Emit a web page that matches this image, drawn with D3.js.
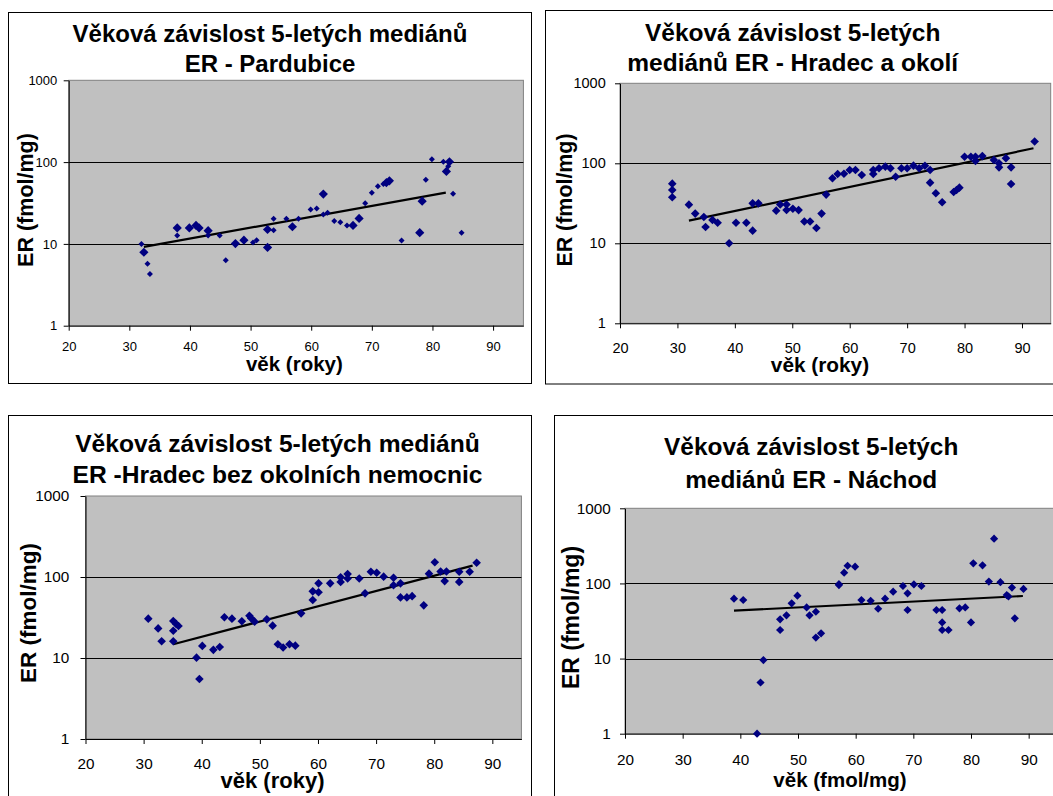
<!DOCTYPE html>
<html>
<head>
<meta charset="utf-8">
<script src="https://cdn.jsdelivr.net/npm/d3@7"></script>
<style>
  body { margin: 0; background: #fff; }
  svg { display: block; font-family: "Liberation Sans", Arial, sans-serif; }
</style>
</head>
<body>
<svg id="chart" width="1053" height="796"></svg>
<script>
// ---- data: [age, ER] ----
var pardubiceSmall = [
  [32, 10], [33, 5.7], [33.4, 4.3], [37.9, 12.7], [43, 12.7], [44.9, 12.7], [45.9, 6.3],
  [50.4, 10.4], [51, 11.1], [53.8, 20.3], [53.8, 14.7], [55.9, 20.3], [57.9, 20.3],
  [59.9, 26.4], [60.9, 27], [62.7, 24], [62, 22.9], [63.8, 19], [64.8, 18.4], [65.9, 16.8],
  [68.9, 31.5], [70, 42.1], [71, 50.8], [71.9, 54], [74.9, 11], [78.9, 60.7], [79.9, 108],
  [81.8, 100.7], [82.6, 89], [83.4, 41], [84.8, 13.7]
];
var pardubiceLarge = [
  [32.4, 7.9], [37.9, 15.7], [39.9, 15.7], [41, 16.8], [41.5, 15.7], [43, 14.5], [47.5, 10.1],
  [48.9, 11.1], [52.8, 9.05], [52.8, 15], [56.9, 16.2], [62, 40.6], [66.9, 16.8], [67.9, 20.5],
  [72.4, 56], [72.9, 59], [77.9, 13.7], [78.3, 33.3], [82.3, 77], [82.8, 101]
];
var pardubiceTrend = [[32.4, 9.2], [82.2, 42.3]];

var hradecOkoli = [
  [29.1, 55.7], [29.1, 46.4], [29.1, 37.6], [32, 30.4], [33.1, 23.5], [34.6, 21.3], [34.9, 16],
  [36.1, 19.6], [37, 18.1], [39, 10], [40.2, 18.1], [42, 18.1], [43.1, 14.4], [43.1, 31.6],
  [44.1, 31.6], [47.2, 25.6], [47.9, 30.5], [49, 26.1], [49, 30.5], [50.1, 27], [51.1, 26],
  [52.1, 18.7], [53.1, 18.7], [54.2, 15.5], [55.1, 23.5], [55.9, 40.6], [57, 65], [57.9, 73.6],
  [59, 74], [60, 82.5], [61, 82.5], [62.1, 71.5], [64.1, 73.6], [64.1, 82.5], [65.1, 86.6],
  [66.2, 90.9], [67.1, 86.6], [68, 68], [69, 86.6], [70, 86.6], [71.1, 93.5], [72.1, 86.6],
  [73.1, 93], [74, 82.5], [74, 57.3], [75, 42.2], [76.1, 32.6], [78.1, 43.8], [78.6, 46.4],
  [79.1, 49.6], [80, 121], [81.1, 121], [81.9, 107], [81.9, 121], [83.1, 123], [85.1, 110],
  [86, 100], [86, 89], [87.2, 116], [88.1, 89], [88.1, 55], [92.2, 187]
];
var hradecOkoliTrend = [[32, 19.2], [92, 154]];

var hradecBez = [
  [30.8, 30.6], [32.5, 23.2], [33.1, 16.1], [35.1, 28.6], [35.1, 21.7], [35.1, 16.1], [35.6, 26.3],
  [36, 24.8], [39.1, 10.1], [39.6, 5.5], [40.1, 14.1], [42, 12.6], [43.1, 13.7], [43.9, 31.8],
  [45.2, 30.6], [46.9, 28.4], [48.2, 33.3], [48.5, 31], [49.1, 28.1], [51.2, 30], [52.2, 25.1],
  [53.1, 14.8], [54, 13.5], [55.1, 14.8], [56.1, 14.2], [57.1, 35.6], [59.1, 66.5], [59.1, 52],
  [60.1, 83.5], [60.1, 64.7], [62.1, 83.5], [63.9, 86.7], [63.9, 99], [65.1, 109], [65.1, 96],
  [67.1, 96], [68.1, 62.8], [69.1, 116], [70.1, 113], [71.3, 101], [73, 98], [73, 79],
  [74.2, 83.5], [74.2, 56], [75.3, 56], [76.2, 58], [78.2, 44.7], [79.1, 110], [80.1, 152],
  [81.1, 117], [81.8, 89], [82.1, 117], [84.3, 116], [84.3, 87], [86.1, 116], [87.3, 150]
];
var hradecBezTrend = [[35.1, 14.8], [86.6, 138]];

var nachod = [
  [38.9, 62.7], [40.5, 60.2], [42.9, 1], [43.5, 4.8], [44, 9.55], [46.9, 24], [46.9, 33.3],
  [48, 37.6], [48.9, 54.3], [49.9, 68.7], [51.5, 48], [52, 37.6], [53.1, 42], [53.1, 19],
  [54, 21.7], [57.1, 97.7], [57.1, 95], [58, 139], [58.6, 172], [59.9, 167], [61, 60],
  [62.6, 58.6], [63.9, 46], [65.1, 62.6], [66.5, 77.6], [68.2, 92.4], [69, 73.8], [69, 44.3],
  [70.1, 97], [71.4, 92.4], [74, 44.3], [75, 44.3], [75, 30.3], [75, 24], [76.1, 24], [78, 46.6],
  [79, 48], [80, 30.3], [80.4, 185], [82, 174], [83.1, 105.7], [84, 394], [85.1, 104], [86.2, 70],
  [86.5, 67], [87.1, 88], [87.6, 34.3], [89.1, 84.4]
];
var nachodTrend = [[38.9, 43.4], [89, 68]];

var xTicks = [20, 30, 40, 50, 60, 70, 80, 90];
var yTicks = [1, 10, 100, 1000];
var gridValues = [10, 100];

var titles = [
  ["Věková závislost 5-letých mediánů", "ER - Pardubice"],
  ["Věková závislost 5-letých", "mediánů ER - Hradec a okolí"],
  ["Věková závislost 5-letých mediánů", "ER -Hradec bez okolních nemocnic"],
  ["Věková závislost 5-letých", "mediánů ER - Náchod"]
];
var xTitles = ["věk (roky)", "věk (roky)", "věk (roky)", "věk (fmol/mg)"];
var yTitle = "ER (fmol/mg)";

// ---- layout of the four charts ----
var panels = [
  { title: titles[0], xTitle: xTitles[0], trend: pardubiceTrend,
    series: [{ data: pardubiceSmall, r: 3 }, { data: pardubiceLarge, r: 4.6 }],
    frame: [8.5, 12.5, 531.5, 383.5], plot: [68.7, 80.3, 523.4, 325.7],
    titleX: 270, titleY: [42.3, 72], titleSize: 24,
    xtX: 294.4, xtY: 371, xtSize: 20.5, ytX: 32.5, ytY: 200, ytSize: 21.5,
    tickSize: 13, xLabOff: 25, yLabGap: 11.4 },
  { title: titles[1], xTitle: xTitles[1], trend: hradecOkoliTrend,
    series: [{ data: hradecOkoli, r: 4.3 }],
    frame: [545.5, 10.5, 1070, 384], plot: [620, 83.3, 1050.7, 323.3],
    titleX: 792.7, titleY: [40.7, 71], titleSize: 24.5,
    xtX: 820, xtY: 372, xtSize: 20.8, ytX: 572, ytY: 200, ytSize: 21.4,
    tickSize: 14.5, xLabOff: 29.5, yLabGap: 14.3 },
  { title: titles[2], xTitle: xTitles[2], trend: hradecBezTrend,
    series: [{ data: hradecBez, r: 4.3 }],
    frame: [8.5, 415.5, 531.5, 820], plot: [85.5, 496, 521.4, 739],
    titleX: 277.5, titleY: [452.3, 482.7], titleSize: 24.6,
    xtX: 272.5, xtY: 788, xtSize: 22, ytX: 35.5, ytY: 613, ytSize: 22.5,
    tickSize: 15.3, xLabOff: 29.5, yLabGap: 16.2 },
  { title: titles[3], xTitle: xTitles[3], trend: nachodTrend,
    series: [{ data: nachod, r: 4.1 }],
    frame: [554.5, 415.5, 1070, 820], plot: [625, 508.3, 1057.5, 733.7],
    titleX: 811.2, titleY: [455, 488.3], titleSize: 24.4,
    xtX: 840, xtY: 787, xtSize: 20.5, ytX: 579.3, ytY: 617.5, ytSize: 23,
    tickSize: 15.3, xLabOff: 31, yLabGap: 14.3 }
];

var svg = d3.select("#chart");

function diamond(r) {
  return "M0," + (-r) + "L" + r + ",0L0," + r + "L" + (-r) + ",0Z";
}

panels.forEach(function(p) {
  var g = svg.append("g");
  var f = p.frame, pl = p.plot;

  g.append("rect")
    .attr("x", f[0]).attr("y", f[1])
    .attr("width", f[2] - f[0]).attr("height", f[3] - f[1])
    .attr("fill", "#fff").attr("stroke", "#000").attr("stroke-width", 1);

  var x = d3.scaleLinear().domain([20, 95]).range([pl[0], pl[2]]);
  var y = d3.scaleLog().domain([1, 1000]).range([pl[3], pl[1]]);

  // plot area
  g.append("rect")
    .attr("x", pl[0]).attr("y", pl[1])
    .attr("width", pl[2] - pl[0]).attr("height", pl[3] - pl[1])
    .attr("fill", "#c0c0c0").attr("stroke", "#808080").attr("stroke-width", 1);

  // gridlines
  g.selectAll("line.grid").data(gridValues).enter().append("line")
    .attr("class", "grid")
    .attr("x1", pl[0]).attr("x2", pl[2])
    .attr("y1", function(d){ return Math.round(y(d)) + 0.5; })
    .attr("y2", function(d){ return Math.round(y(d)) + 0.5; })
    .attr("stroke", "#000").attr("stroke-width", 1);

  // axes
  var xAxis = d3.axisBottom(x).tickValues(xTicks).tickFormat(d3.format("d"))
    .tickSize(5).tickSizeOuter(0).tickPadding(p.xLabOff - 5 - 0.71 * p.tickSize);
  var yAxis = d3.axisLeft(y).tickValues(yTicks).tickFormat(d3.format("d"))
    .tickSize(5).tickSizeOuter(0).tickPadding(p.yLabGap - 5);

  var gx = g.append("g").attr("transform", "translate(0," + pl[3] + ")").call(xAxis);
  var gy = g.append("g").attr("transform", "translate(" + pl[0] + ",0)").call(yAxis);
  [gx, gy].forEach(function(a) {
    a.selectAll("text").attr("font-size", p.tickSize).attr("fill", "#000")
      .attr("font-family", "Liberation Sans, Arial, sans-serif");
    a.selectAll("line, path").attr("stroke", "#000");
  });

  // trend line
  g.append("path")
    .datum(p.trend)
    .attr("d", d3.line().x(function(d){ return x(d[0]); }).y(function(d){ return y(d[1]); }))
    .attr("fill", "none").attr("stroke", "#000").attr("stroke-width", 2.2);

  // markers
  p.series.forEach(function(s) {
    g.append("g").selectAll("path").data(s.data).enter().append("path")
      .attr("d", diamond(s.r))
      .attr("transform", function(d){ return "translate(" + x(d[0]) + "," + y(d[1]) + ")"; })
      .attr("fill", "#000080");
  });

  // titles
  var t = g.append("text")
    .attr("text-anchor", "middle").attr("font-weight", "bold")
    .attr("font-size", p.titleSize).attr("fill", "#000");
  p.title.forEach(function(line, i) {
    t.append("tspan").attr("x", p.titleX).attr("y", p.titleY[i]).text(line);
  });

  g.append("text")
    .attr("x", p.xtX).attr("y", p.xtY)
    .attr("text-anchor", "middle").attr("font-weight", "bold")
    .attr("font-size", p.xtSize).text(p.xTitle);

  g.append("text")
    .attr("transform", "translate(" + p.ytX + "," + p.ytY + ") rotate(-90)")
    .attr("text-anchor", "middle").attr("font-weight", "bold")
    .attr("font-size", p.ytSize).text(yTitle);
});
</script>
</body>
</html>
